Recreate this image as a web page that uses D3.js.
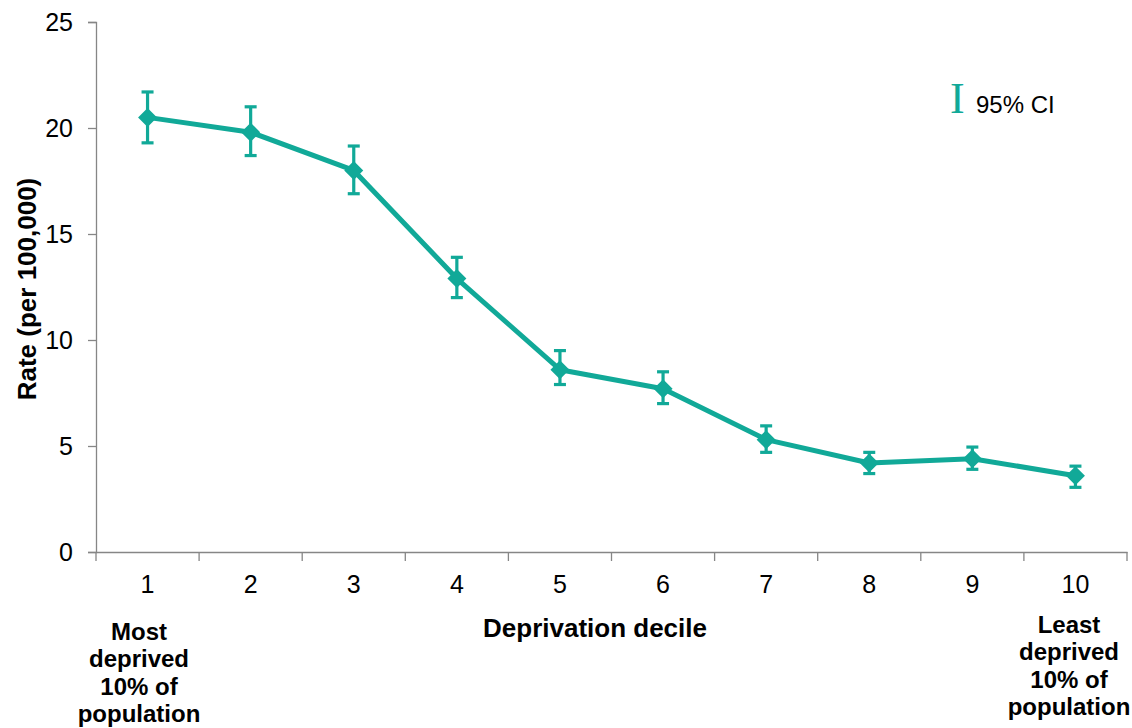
<!DOCTYPE html>
<html><head><meta charset="utf-8">
<script src="https://cdn.jsdelivr.net/npm/d3@7"></script>
<style>body{margin:0;background:#fff}svg{display:block}</style>
</head><body>
<svg id="c" width="1132" height="728" font-family='"Liberation Sans",Arial,sans-serif'></svg>
<script>
const categories = ["1","2","3","4","5","6","7","8","9","10"];
const rates = [20.5, 19.8, 18.0, 12.9, 8.6, 7.7, 5.3, 4.2, 4.4, 3.6];
const ciLower = [19.3, 18.7, 16.9, 12.0, 7.9, 7.0, 4.7, 3.7, 3.9, 3.05];
const ciUpper = [21.7, 21.0, 19.15, 13.9, 9.5, 8.5, 5.95, 4.7, 4.95, 4.05];
const yTicks = [0, 5, 10, 15, 20, 25];

const color = "#11A998";
const axisColor = "#868686";
const sans = '"Liberation Sans",Arial,sans-serif';
const svg = d3.select("#c");
const mLeft = 96, mRight = 1127, mTop = 22, mBottom = 552;

const x = d3.scaleBand().domain(categories).range([mLeft, mRight]);
const y = d3.scaleLinear().domain([0, 25]).range([mBottom, mTop]);

// y axis
const ya = svg.append("g").attr("transform", `translate(${mLeft},0)`)
  .call(d3.axisLeft(y).tickValues(yTicks).tickSize(8).tickPadding(15));
ya.select(".domain").attr("stroke", axisColor).attr("stroke-width", 1.3);
ya.selectAll(".tick line").attr("stroke", axisColor).attr("stroke-width", 1.3);
ya.selectAll(".tick text").attr("font-size", 25).attr("fill", "#000").attr("font-family", sans);

// x axis
const xa = svg.append("g").attr("transform", `translate(0,${mBottom})`)
  .call(d3.axisBottom(x).tickSize(0).tickPadding(23));
xa.select(".domain").attr("stroke", axisColor).attr("stroke-width", 1.3);
xa.selectAll(".tick text").attr("font-size", 25).attr("fill", "#000").attr("font-family", sans);
// boundary ticks
const bounds = categories.map(c => x(c)).concat([x(categories[categories.length-1]) + x.bandwidth()]);
svg.append("g").selectAll("line").data(bounds).join("line")
  .attr("x1", d => d).attr("x2", d => d).attr("y1", mBottom).attr("y2", mBottom + 9)
  .attr("stroke", axisColor).attr("stroke-width", 1.3);

const cx = c => x(c) + x.bandwidth() / 2;

// line
svg.append("path").datum(categories)
  .attr("fill", "none").attr("stroke", color).attr("stroke-width", 5).attr("stroke-linejoin", "round")
  .attr("d", d3.line().x(c => cx(c)).y((c, i) => y(rates[i])));

// error bars
const eb = svg.append("g").attr("stroke", color).attr("stroke-width", 3.2);
categories.forEach((c, i) => {
  const px = cx(c);
  eb.append("line").attr("x1", px).attr("x2", px).attr("y1", y(ciUpper[i])).attr("y2", y(ciLower[i]));
  eb.append("line").attr("x1", px - 6).attr("x2", px + 6).attr("y1", y(ciUpper[i])).attr("y2", y(ciUpper[i]));
  eb.append("line").attr("x1", px - 6).attr("x2", px + 6).attr("y1", y(ciLower[i])).attr("y2", y(ciLower[i]));
});

// diamond markers
svg.append("g").selectAll("path").data(categories).join("path")
  .attr("transform", (c, i) => `translate(${cx(c)},${y(rates[i])})`)
  .attr("d", "M0,-9.5L9.5,0L0,9.5L-9.5,0Z").attr("fill", color);

// y label
svg.append("text").attr("transform", "translate(36,289) rotate(-90)")
  .attr("text-anchor", "middle").attr("font-size", 26).attr("font-weight", "bold").text("Rate (per 100,000)");

// x title
svg.append("text").attr("x", 595).attr("y", 637).attr("text-anchor", "middle")
  .attr("font-size", 26).attr("font-weight", "bold").text("Deprivation decile");

// annotations
const ann = (lines, xc, y0) => {
  const t = svg.append("text").attr("text-anchor", "middle").attr("font-size", 24).attr("font-weight", "bold");
  lines.forEach((l, i) => t.append("tspan").attr("x", xc).attr("y", y0 + i * 27.3).text(l));
};
ann(["Most", "deprived", "10% of", "population"], 139, 640);
ann(["Least", "deprived", "10% of", "population"], 1069, 633);

// legend
svg.append("text").attr("x", 950).attr("y", 113).attr("font-size", 44)
  .attr("font-family", '"Liberation Serif","Times New Roman",serif').attr("fill", color).text("I");
svg.append("text").attr("x", 976).attr("y", 113).attr("font-size", 24).attr("fill", "#000").text("95% CI");
</script>
</body></html>
